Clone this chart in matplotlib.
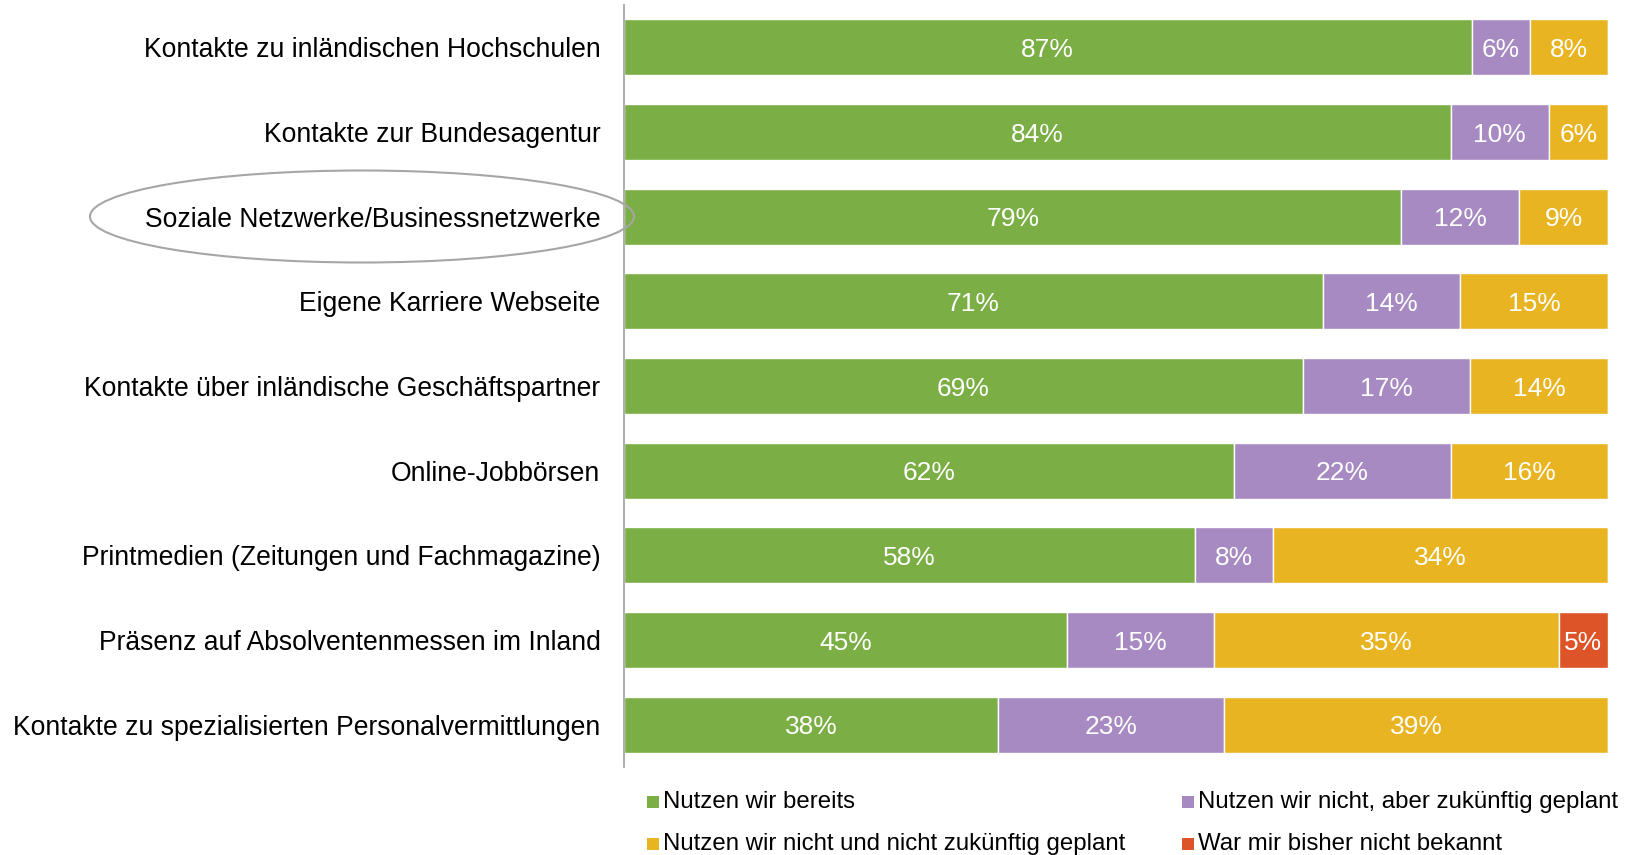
import matplotlib
matplotlib.use("Agg")
import matplotlib.pyplot as plt
from matplotlib.patches import Ellipse, Rectangle
import numpy as np

plt.rcParams['font.family'] = ['Liberation Sans', 'DejaVu Sans']

categories = [
    "Kontakte zu inländischen Hochschulen",
    "Kontakte zur Bundesagentur",
    "Soziale Netzwerke/Businessnetzwerke",
    "Eigene Karriere Webseite",
    "Kontakte über inländische Geschäftspartner",
    "Online-Jobbörsen",
    "Printmedien (Zeitungen und Fachmagazine)",
    "Präsenz auf Absolventenmessen im Inland",
    "Kontakte zu spezialisierten Personalvermittlungen",
]
series_names = [
    "Nutzen wir bereits",
    "Nutzen wir nicht, aber zukünftig geplant",
    "Nutzen wir nicht und nicht zukünftig geplant",
    "War mir bisher nicht bekannt",
]
nutzen_bereits = [87, 84, 79, 71, 69, 62, 58, 45, 38]
geplant = [6, 10, 12, 14, 17, 22, 8, 15, 23]
nicht_geplant = [8, 6, 9, 15, 14, 16, 34, 35, 39]
nicht_bekannt = [0, 0, 0, 0, 0, 0, 0, 5, 0]
colors = ["#7BAE44", "#A68AC1", "#E8B422", "#DD5428"]

data = np.array([nutzen_bereits, geplant, nicht_geplant, nicht_bekannt], dtype=float)
totals = data.sum(axis=0)
norm = data / totals * 100

fig = plt.figure(figsize=(16.32, 8.55), dpi=100)
ax = fig.add_axes([624 / 1632, 1 - 767 / 855, (1608 - 624) / 1632, 762 / 855])

y = np.arange(len(categories))
left = np.zeros(len(categories))
for i, (vals, col) in enumerate(zip(norm, colors)):
    ax.barh(y, vals, left=left, height=0.66, color=col, edgecolor="white", linewidth=1.0)
    for j, v in enumerate(vals):
        if data[i, j] > 0:
            ax.text(left[j] + v / 2, y[j], f"{int(data[i, j])}%", ha="center",
                    va="center_baseline", color="white", fontsize=19)
    left += vals

ax.set_ylim(len(categories) - 0.5, -0.5)
ax.set_xlim(0, 100)
ax.set_yticks(y)
ax.set_yticklabels(categories, fontsize=19.1)
ax.tick_params(axis="y", length=0, pad=17)
ax.set_xticks([])
for s in ["top", "right", "bottom"]:
    ax.spines[s].set_visible(False)
ax.spines["left"].set_color("#A0A0A0")
ax.spines["left"].set_linewidth(1.2)

# highlight ellipse
ell = Ellipse((362 / 1632, 1 - 216.5 / 855), 544 / 1632, 92 / 855, transform=fig.transFigure,
              facecolor="none", edgecolor="#A6A6A6", linewidth=1.5, clip_on=False)
fig.patches.append(ell)

# legend
leg_pos = [(647, 802), (1182, 802), (647, 844), (1182, 844)]
for (px, py), name, col in zip(leg_pos, series_names, colors):
    sq = 12
    fig.patches.append(Rectangle((px / 1632, 1 - (py + sq / 2) / 855), sq / 1632, sq / 855,
                                 transform=fig.transFigure, facecolor=col, edgecolor="none"))
    fig.text((px + sq + 4) / 1632, 1 - py / 855, name, ha="left", va="center", fontsize=17.3)

fig.savefig("out.png", dpi=100)
